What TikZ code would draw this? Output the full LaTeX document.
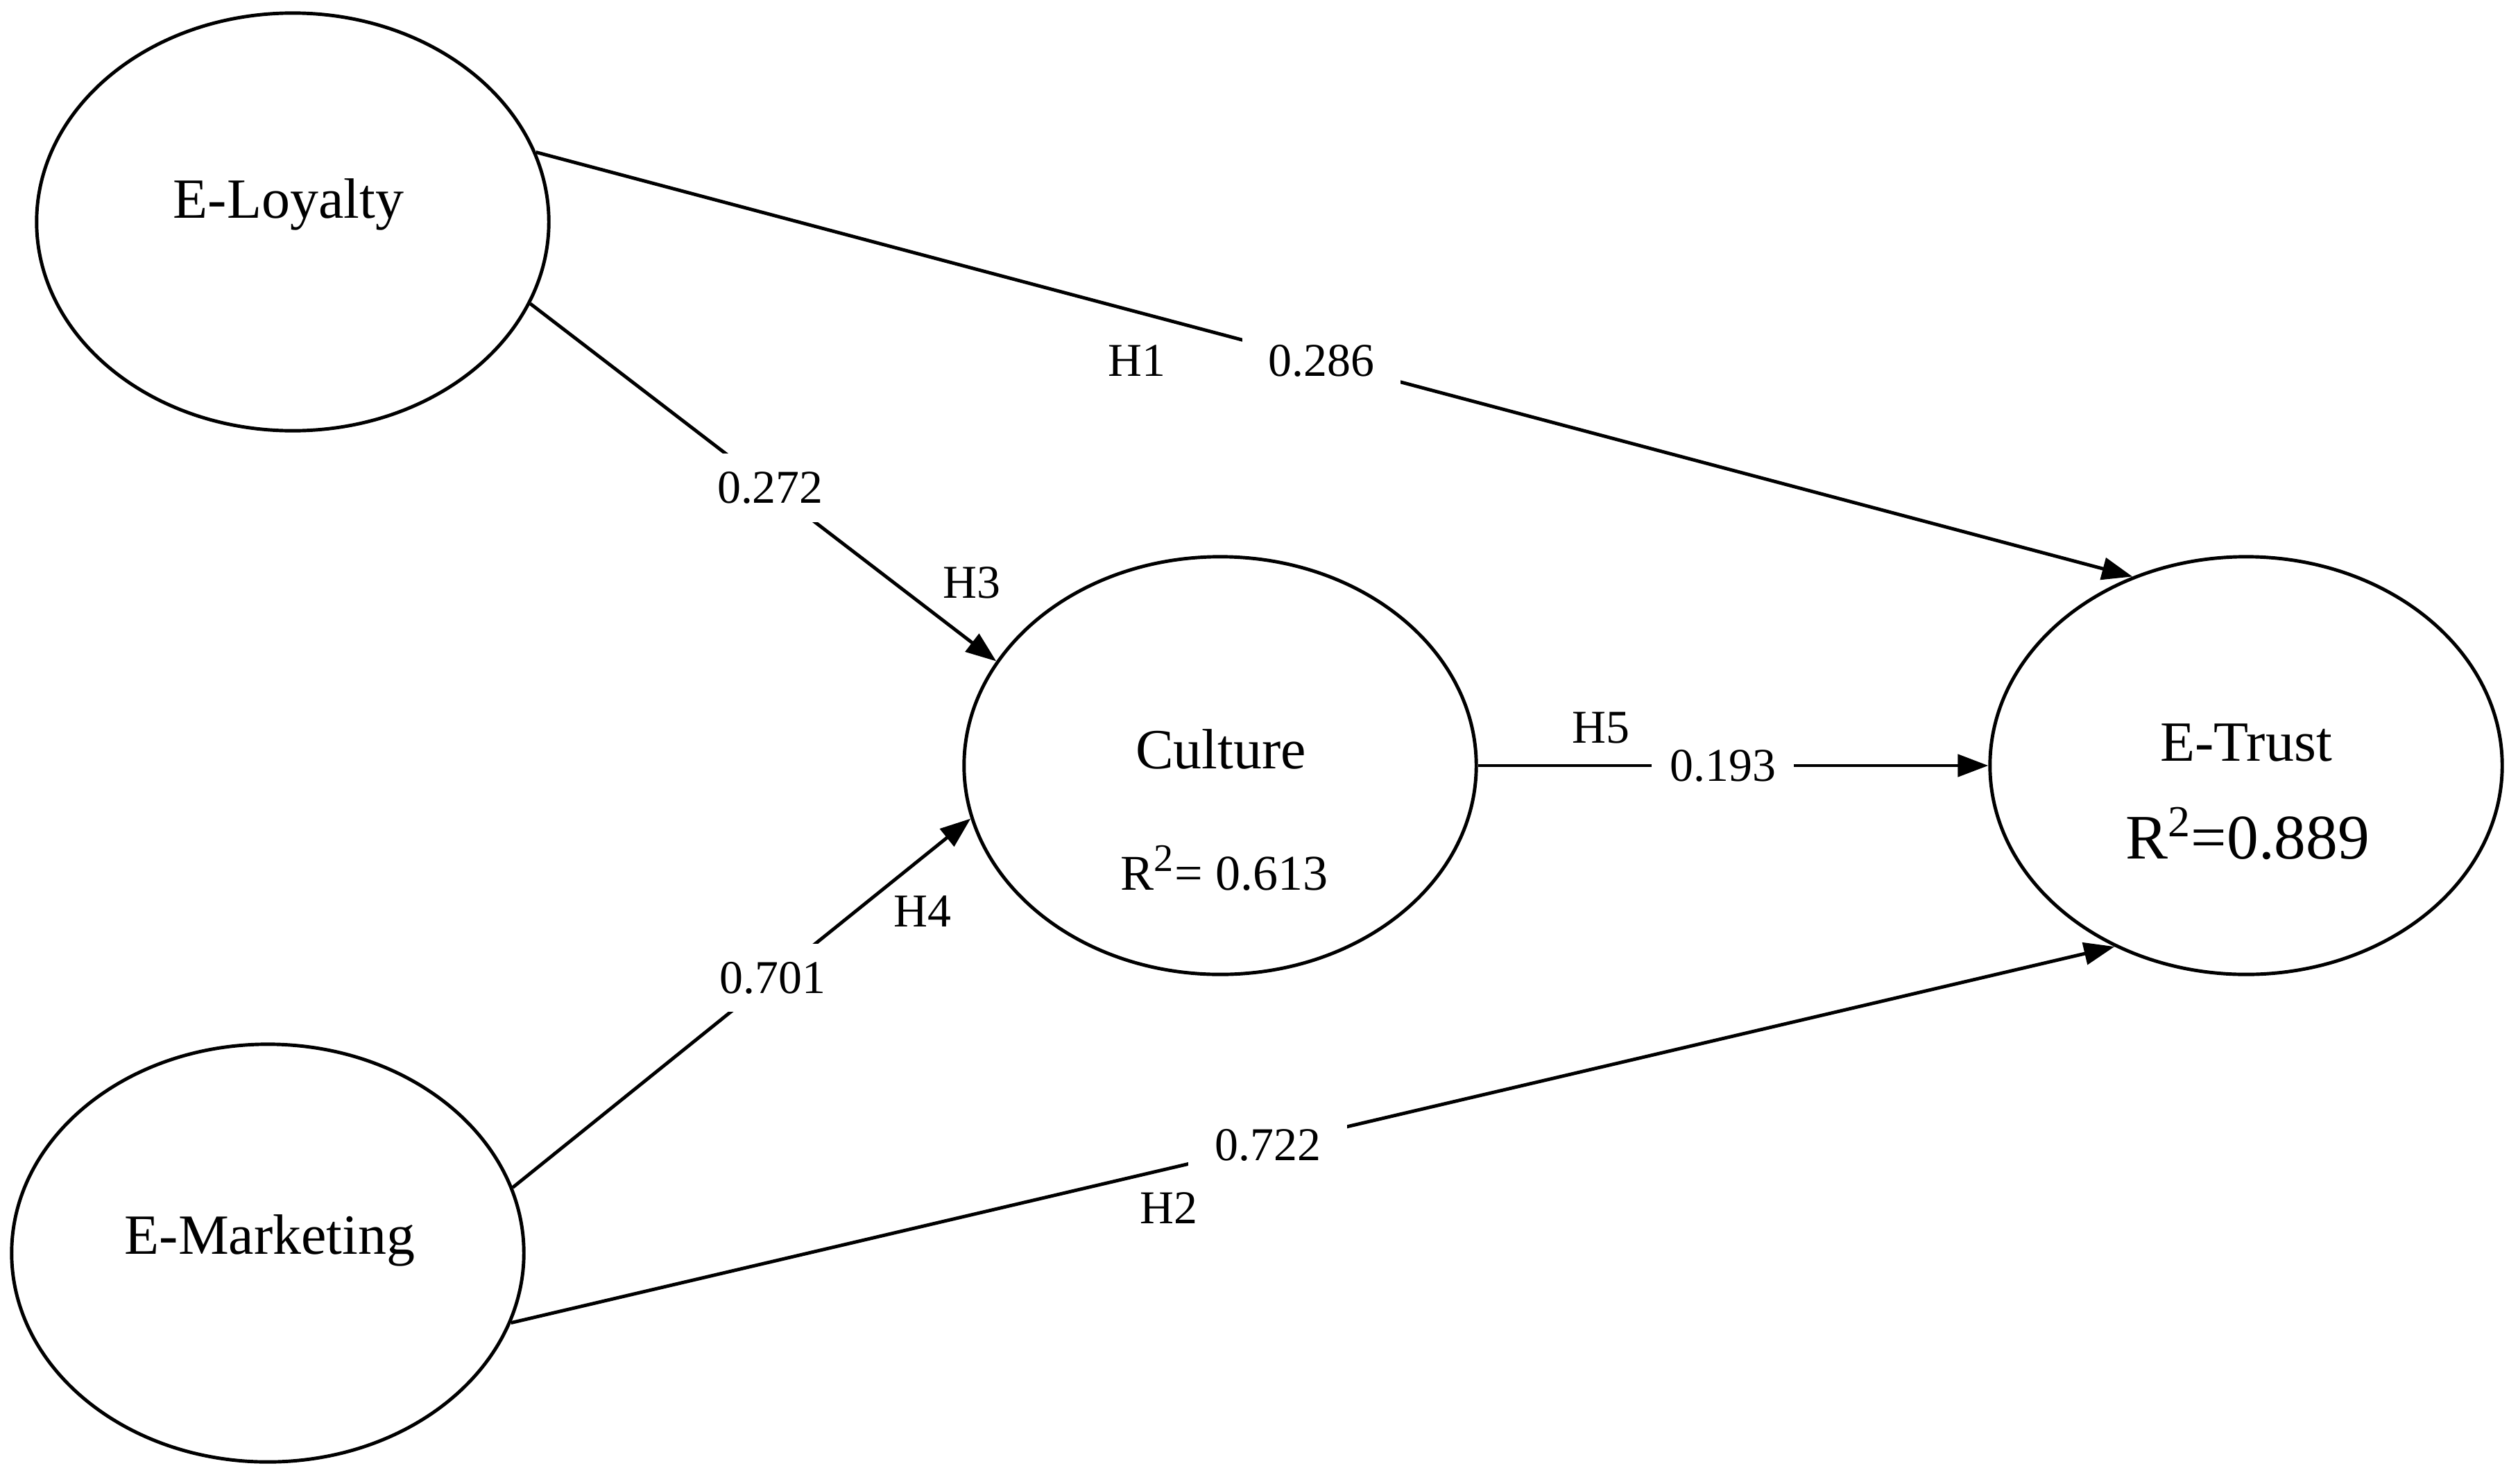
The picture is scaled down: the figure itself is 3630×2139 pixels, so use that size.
\documentclass[tikz,border=0pt]{standalone}
\usepackage{fontspec}
\setmainfont{Liberation Serif}
\usetikzlibrary{shapes.geometric,arrows.meta}
\begin{document}
\begin{tikzpicture}[x=0.01cm,y=-0.01cm,
  ell/.style={draw, line width=1.4pt, ellipse, inner sep=0pt, minimum width=7.38cm, minimum height=6.02cm},
  cname/.style={font=\fontsize{23.3}{28}\selectfont, anchor=base, inner sep=0pt},
  rsq/.style={font=\fontsize{20.5}{25}\selectfont, anchor=base, inner sep=0pt},
  rsqbig/.style={font=\fontsize{26}{31}\selectfont, anchor=base, inner sep=0pt},
  coef/.style={font=\fontsize{19.3}{23}\selectfont, fill=white, inner xsep=0.38cm, inner ysep=0.26cm},
  hyp/.style={font=\fontsize{19.3}{23}\selectfont, inner sep=0pt},
  conn/.style={line width=1.4pt, -{Triangle[length=0.44cm,width=0.32cm]}}]
\fill[white] (0,0) rectangle (3630,2139);
\useasboundingbox (0,0) rectangle (3630,2139);

% constructs
\node[ell] (eloy) at (422,320) {};
\node[ell] (emkt) at (386,1807) {};
\node[ell] (cult) at (1759,1104) {};
\node[ell] (etr) at (3238,1104) {};

% texts inside
\node[cname] (eloyT) at (416,314) {E-Loyalty};
\node[cname] (emktT) at (389,1808) {E-Marketing};
\node[cname] (cultT) at (1760,1108) {Culture};
\node[rsq] (cultR) at (1765,1283) {R\textsuperscript{\fontsize{16}{18}\selectfont 2}= 0.613};
\node[cname] (etrT) at (3238,1097) {E-Trust};
\node[rsqbig] (etrR) at (3240,1238) {R\textsuperscript{2}=0.889};

% paths
\draw[conn] (eloy.16) -- node[coef,pos=0.492] (c1) {0.286} (etr.121);
\draw[conn] (eloy.341) -- node[coef,pos=0.515] (c3) {0.272} (cult.155);
\draw[conn] (emkt.15) -- node[coef,pos=0.568] (c4) {0.701} (cult.192);
\draw[conn] (emkt.344) -- node[coef,pos=0.472] (c2) {0.722} (etr.234);
\draw[conn] (cult) -- node[coef,pos=0.48,inner xsep=0.26cm] (c5) {0.193} (etr);

% hypothesis labels
\node[hyp] (h1) at (1639,520) {H1};
\node[hyp] (h3) at (1401,840) {H3};
\node[hyp] (h4) at (1330,1314) {H4};
\node[hyp] (h2) at (1685,1742) {H2};
\node[hyp] (h5) at (2308,1050) {H5};
\end{tikzpicture}
\end{document}
